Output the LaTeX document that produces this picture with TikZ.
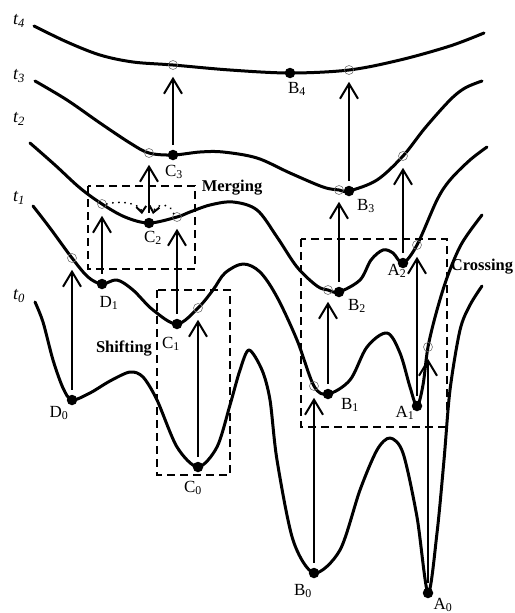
\documentclass[tikz,border=0pt]{standalone}
\usepackage{fontspec}
\setmainfont{Liberation Serif}
\usetikzlibrary{arrows.meta,calc}
\begin{document}
\begin{tikzpicture}[x=1pt,y=-1pt,
  curve/.style={line width=3pt, line cap=round, line join=round},
  arr/.style={line width=2pt, -{Straight Barb[length=15pt,width=18pt]}, shorten >=7pt, shorten <=5pt},
  dot/.style={circle, fill=black, minimum size=10.5pt, inner sep=0pt},
  oc/.style={circle, draw=black!55, line width=0.6pt, minimum size=9pt, inner sep=0pt},
  dbox/.style={line width=2pt, dash pattern=on 8pt off 5pt},
  lbl/.style={font=\fontsize{17}{19}\selectfont, inner sep=0pt},
  tlbl/.style={font=\fontsize{18}{20}\selectfont\itshape, inner sep=0pt},
  tag/.style={font=\fontsize{16.5}{19}\selectfont\bfseries, inner sep=0pt},
  dotarr/.style={line width=2pt, dash pattern=on 0.1pt off 6pt, line cap=round, -{Straight Barb[length=6pt,width=10pt,line cap=butt]}}
]
\useasboundingbox (0,0) rectangle (514,613);

% positions of minima (dots)
\coordinate (pD0) at (72,400);
\coordinate (pC0) at (198,467);
\coordinate (pB0) at (314,573);
\coordinate (pA0) at (428,593);
\coordinate (pD1) at (102,284);
\coordinate (pC1) at (177,324);
\coordinate (pB1) at (328,394);
\coordinate (pA1) at (417,406);
\coordinate (pC2) at (149,223);
\coordinate (pB2) at (339,292);
\coordinate (pA2) at (403,263);
\coordinate (pC3) at (173,155);
\coordinate (pB3) at (349,191);
\coordinate (pB4) at (290,73);
% positions of open circles
\coordinate (q1a) at (72,258);
\coordinate (q1b) at (198,308);
\coordinate (q1c) at (314,386);
\coordinate (q1d) at (428,347);
\coordinate (q2a) at (102,204);
\coordinate (q2b) at (177,217);
\coordinate (q2c) at (328,290);
\coordinate (q2d) at (417,245);
\coordinate (q3a) at (149,153);
\coordinate (q3b) at (339,190);
\coordinate (q3c) at (403,156);
\coordinate (q4a) at (173,65);
\coordinate (q4b) at (349,70);

% dashed boxes
\draw[dbox] (88,186) rectangle (195,269);
\draw[dbox] (157,290) rectangle (230,475);
\draw[dbox] (301,239) rectangle (447,427);

% curves
\draw[curve] plot[smooth, tension=0.55] coordinates {(34,26) (67,42) (100,55) (133,62) (q4a) (230,70) (pB4) (q4b) (400,60) (450,46) (484,33)};
\draw[curve] plot[smooth, tension=0.55] coordinates {(35,81) (67,100) (100,123) (130,143) (q3a) (pC3) (200,152) (223,152) (257,158) (290,173) (323,187) (q3b) (pB3) (377,180) (q3c) (425,128) (450,100) (465,88) (482,81)};
\draw[curve] plot[smooth, tension=0.55] coordinates {(30,143) (55,165) (80,188) (q2a) (125,217) (pC2) (q2b) (190,212) (210,205) (233,202) (257,210) (277,237) (297,267) (317,286) (q2c) (pB2) (360,280) (371,260) (383,250) (393,253) (pA2) (q2d) (437,200) (450,180) (470,160) (487,147)};
\draw[curve] plot[smooth, tension=0.55] coordinates {(33,206) (50,228) (q1a) (88,277) (pD1) (117,280) (133,290) (153,310) (pC1) (q1b) (213,290) (225,273) (243,264) (260,272) (277,297) (297,340) (q1c) (pB1) (350,380) (367,347) (387,333) (400,353) (410,387) (pA1) (423,385) (q1d) (437,310) (448,275) (462,243) (482,215)};
\draw[curve] plot[smooth, tension=0.5] coordinates {(35,302) (43,322) (53,360) (63,388) (pD0) (90,393) (110,381) (130,372) (143,377) (157,400) (177,447) (pC0) (217,447) (230,405) (240,370) (249,350) (262,370) (270,400) (277,460) (293,540) (pB0) (340,550) (360,490) (377,450) (390,438) (403,453) (417,517) (pA0) (437,533) (444,460) (450,390) (460,330) (470,305) (482,286)};

% open circles
\foreach \n in {1a,1b,1c,1d,2a,2b,2c,2d,3a,3b,3c,4a,4b}
  \node[oc] (c\n) at (q\n) {};
% dots
\foreach \n in {D0,C0,B0,A0,D1,C1,B1,A1,C2,B2,A2,C3,B3,B4}
  \node[dot] (\n) at (p\n) {};

% arrows
\draw[arr] (D0) -- (c1a);
\draw[arr] (C0) -- (c1b);
\draw[arr] (B0) -- (c1c);
\draw[arr] (A0) -- (c1d);
\draw[arr] (D1) -- (c2a);
\draw[arr] (C1) -- (c2b);
\draw[arr] (B1) -- (c2c);
\draw[arr] (A1) -- (c2d);
\draw[arr] (C2) -- (c3a);
\draw[arr] (B2) -- (c3b);
\draw[arr] (A2) -- (c3c);
\draw[arr] (C3) -- (c4a);
\draw[arr] (B3) -- (c4b);

% merging dotted arrows
\draw[dotarr] (c2a.east) .. controls +(16,-4) and +(-1,-10) .. ($(C2)+(-7,-9)$);
\draw[dotarr] (c2b.north west) .. controls +(-3,-12) and +(2,-10) .. ($(C2)+(4,-9)$);

% level labels
\node[tlbl] (lt4) at (19,21) {t\textsubscript{4}};
\node[tlbl] (lt3) at (19,76) {t\textsubscript{3}};
\node[tlbl] (lt2) at (19,119) {t\textsubscript{2}};
\node[tlbl] (lt1) at (19,198) {t\textsubscript{1}};
\node[tlbl] (lt0) at (19,296) {t\textsubscript{0}};

% point labels
\node[lbl] (lD0) at (59,413) {D\textsubscript{0}};
\node[lbl] (lC0) at (193,488) {C\textsubscript{0}};
\node[lbl] (lB0) at (303,591) {B\textsubscript{0}};
\node[lbl] (lA0) at (443,605) {A\textsubscript{0}};
\node[lbl] (lD1) at (109,303) {D\textsubscript{1}};
\node[lbl] (lC1) at (171,344) {C\textsubscript{1}};
\node[lbl] (lB1) at (350,405) {B\textsubscript{1}};
\node[lbl] (lA1) at (405,413) {A\textsubscript{1}};
\node[lbl] (lC2) at (153,238) {C\textsubscript{2}};
\node[lbl] (lB2) at (357,306) {B\textsubscript{2}};
\node[lbl] (lA2) at (397,271) {A\textsubscript{2}};
\node[lbl] (lC3) at (174,172) {C\textsubscript{3}};
\node[lbl] (lB3) at (366,206) {B\textsubscript{3}};
\node[lbl] (lB4) at (297,89) {B\textsubscript{4}};

% tags
\node[tag] (merging) at (232,188) {Merging};
\node[tag] (shifting) at (124,349) {Shifting};
\node[tag] (crossing) at (482,267) {Crossing};
\end{tikzpicture}
\end{document}
